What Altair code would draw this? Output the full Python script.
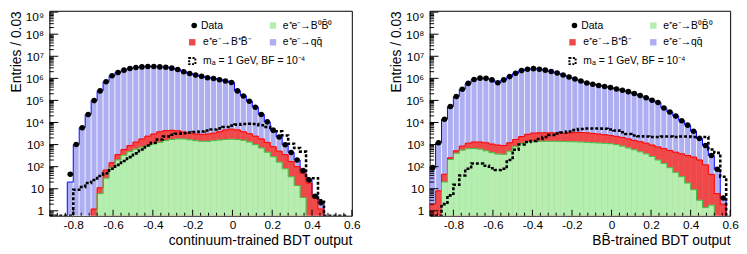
import altair as alt
import pandas as pd

FONT = "Liberation Sans"

# ---------------- binning (50 bins of 0.03) ----------------
N_BINS = 50
EDGES = [round(-0.92 + 0.03 * i, 3) for i in range(N_BINS + 1)]

# ---------------- left panel: continuum-trained BDT ----------------
L_DATA = [0, 0, 0, 45, 1000, 5800, 23000, 98000, 270000, 700000,
          1300000, 1850000, 2350000, 2800000, 3100000, 3300000, 3450000, 3450000, 3300000, 3200000,
          2900000, 2500000, 2000000, 1650000, 1400000, 1230000, 1070000, 980000, 870000, 760000,
          650000, 270000, 160000, 91000, 49000, 23000, 10700, 4400, 2200, 980,
          440, 200, 66, 25, 4.6, 2.3, 0, 0, 0, 0]
L_BB0 = [0, 0, 0, 0, 0, 0, 0, 0, 6, 30,
         90, 200, 330, 480, 620, 760, 900, 1050, 1250, 1500,
         1700, 1800, 1800, 1650, 1500, 1400, 1400, 1500, 1600, 1700,
         1750, 1700, 1550, 1300, 1000, 700, 450, 280, 160, 80,
         35, 14, 4, 0, 0, 0, 0, 0, 0, 0]
L_BPM = [0, 0, 0, 0, 0, 0, 0, 1.2, 5, 40,
         60, 150, 270, 420, 680, 1040, 1500, 1950, 2550, 2800,
         2700, 2400, 1900, 1650, 1500, 1500, 1600, 1800, 2200, 2900,
         3250, 2900, 2250, 1800, 1400, 1100, 800, 520, 340, 270,
         135, 86, 46, 18, 4, 1.2, 0, 0, 0, 0]
L_QQ = [0, 0, 0, 20, 1000, 5800, 23000, 98000, 270000, 700000,
        1300000, 1850000, 2350000, 2800000, 3100000, 3300000, 3450000, 3450000, 3300000, 3200000,
        2900000, 2500000, 2000000, 1650000, 1400000, 1230000, 1070000, 980000, 870000, 760000,
        650000, 270000, 160000, 91000, 49000, 22000, 9500, 3600, 1700, 630,
        270, 100, 16, 7, 1, 1, 0, 0, 0, 0]
L_SIG = [0, 0, 0, 0, 9, 12, 18, 25, 38, 50,
         80, 120, 180, 270, 400, 600, 900, 1200, 1700, 2300,
         2800, 3100, 3300, 3500, 3700, 3900, 4300, 4800, 5400, 6200,
         7200, 8000, 8600, 8800, 8500, 7500, 6200, 5000, 4000, 2600,
         1100, 700, 480, 30, 30, 3, 0, 0, 0, 0]

# ---------------- right panel: BBbar-trained BDT ----------------
R_DATA = [90, 1200, 14000, 53000, 150000, 320000, 590000, 890000, 1020000, 1000000,
          850000, 630000, 850000, 1200000, 1700000, 2240000, 2570000, 2750000, 2600000, 2350000,
          2050000, 1740000, 1410000, 1150000, 930000, 760000, 620000, 540000, 470000, 430000,
          380000, 330000, 290000, 250000, 204000, 166000, 132000, 102000, 80000, 45000,
          30000, 19500, 12000, 7600, 4000, 1900, 900, 320, 76, 3.8]
R_BB0 = [0, 0, 20, 210, 400, 560, 650, 660, 620, 520,
         430, 370, 360, 500, 800, 1100, 1300, 1350, 1400, 1400,
         1400, 1400, 1380, 1350, 1330, 1300, 1260, 1220, 1180, 1140,
         1100, 1000, 850, 700, 580, 470, 380, 290, 200, 140,
         90, 55, 35, 18, 9, 3, 1.4, 1.8, 0, 0]
R_BPM = [2, 8, 25, 40, 120, 290, 500, 640, 680, 680,
         620, 580, 540, 700, 900, 1200, 1600, 1950, 2000, 2000,
         2000, 1950, 1920, 2050, 2170, 2200, 2140, 1980, 1820, 1660,
         1500, 1350, 1250, 1100, 970, 880, 770, 660, 580, 510,
         450, 395, 345, 302, 261, 197, 119, 43, 6, 2]
R_QQ = [88, 1190, 13950, 52750, 149500, 319000, 589000, 889000, 1019000, 999000,
        849000, 629000, 849000, 1199000, 1698000, 2238000, 2567000, 2747000, 2597000, 2347000,
        2047000, 1737000, 1407000, 1147000, 927000, 757000, 617000, 537000, 467000, 427000,
        377000, 328000, 288000, 248000, 202000, 165000, 131000, 101000, 79000, 44000,
        29500, 19000, 11600, 7300, 3700, 1700, 780, 275, 70, 1.8]
R_SIG = [0, 0, 2, 5, 15, 40, 80, 140, 140, 110,
         85, 70, 80, 200, 580, 1000, 1300, 1450, 1800, 2200,
         2700, 3200, 3500, 3900, 4500, 5100, 5300, 5300, 5300, 5200,
         4800, 4300, 3600, 3000, 2600, 2400, 2300, 2200, 2200, 2300,
         2300, 2200, 2300, 2300, 2200, 2200, 2200, 600, 420, 35]

# ---------------- axes ----------------
X_DOM = [-0.92, 0.6]
Y_DOM = [0.6, 1.15e9]
FLOOR = 0.01
X_MAJOR = [-0.8, -0.6, -0.4, -0.2, 0.0, 0.2, 0.4, 0.6]
X_MINOR = [-0.88, -0.84, -0.76, -0.72, -0.68, -0.64, -0.56, -0.52, -0.48, -0.44,
           -0.36, -0.32, -0.28, -0.24, -0.16, -0.12, -0.08, -0.04, 0.04, 0.08,
           0.12, 0.16, 0.24, 0.28, 0.32, 0.36, 0.44, 0.48, 0.52, 0.56]
Y_MAJOR = [1, 10, 1e2, 1e3, 1e4, 1e5, 1e6, 1e7, 1e8, 1e9]
Y_LABELS = ["1", "10", "10²", "10³", "10⁴", "10⁵", "10⁶", "10⁷", "10⁸", "10⁹"]
Y_MINOR = [m * 10.0 ** k for k in range(-1, 9) for m in range(2, 10)
           if Y_DOM[0] < m * 10.0 ** k < Y_DOM[1]]

LEG_DATA = "Data"
LEG_BB0 = "e⁺e⁻→B⁰B\u0304⁰"
LEG_BPM = "e⁺e⁻→B⁺B\u0304⁻"
LEG_QQ = "e⁺e⁻→qq\u0304"
LEG_SIG = "m\u2090 = 1 GeV, BF = 10⁻⁴"

C_BLUE_F, C_BLUE_L = "#aeaef2", "#0000ff"
C_RED_F, C_RED_L = "#f04848", "#ff0000"
C_GRN_F, C_GRN_L = "#b4efb0", "#44bb44"

H = 208
Y_LABEL_EXPR = "[%s][round(log(datum.value) / LN10)]" % ", ".join("'%s'" % s for s in Y_LABELS)
X_LABEL_EXPR = ("datum.value < 0 ? '-' + format(-datum.value, '.1f') : "
                "(datum.value == 0 ? '0' : format(datum.value, '.1f'))")


def bins_df(vals):
    return pd.DataFrame({
        "lo": EDGES[:-1], "hi": EDGES[1:],
        "c": [round((a + b) / 2, 4) for a, b in zip(EDGES[:-1], EDGES[1:])],
        "v": vals,
        "f": [FLOOR] * len(vals),
    })


def step_df(vals, full=False):
    nz = [i for i, v in enumerate(vals) if v > 0]
    first, last = (0, len(vals) - 1) if full else (nz[0], nz[-1])
    xs, ys = [EDGES[first]], [FLOOR]
    for i in range(first, last + 1):
        v = vals[i] if vals[i] > 0 else FLOOR
        xs += [EDGES[i], EDGES[i + 1]]
        ys += [v, v]
    xs.append(EDGES[last + 1])
    ys.append(FLOOR)
    return pd.DataFrame({"x": xs, "y": ys, "o": list(range(len(xs)))})


def panel(data, bb0, bpm, qq, sig, xtitle, width):
    xs = alt.Scale(domain=X_DOM, nice=False, zero=False)
    ys = alt.Scale(type="log", domain=Y_DOM, nice=False, clamp=True)
    cum_g = list(bb0)
    cum_r = [g + r for g, r in zip(bb0, bpm)]
    cum_b = [c + q for c, q in zip(cum_r, qq)]

    x_axis = alt.Axis(values=X_MAJOR, ticks=False, domain=False, grid=False,
                      labelExpr=X_LABEL_EXPR,
                      labelFlush=False, labelOverlap=False, labelPadding=4,
                      labelFontSize=12, title=xtitle, titleAnchor="end",
                      titleFontSize=14, titlePadding=3)
    y_axis = alt.Axis(values=Y_MAJOR, ticks=False, domain=False, grid=False,
                      labelExpr=Y_LABEL_EXPR,
                      labelFlush=3, labelOverlap=False, labelPadding=6,
                      labelFontSize=12, title="Entries / 0.03", titleAnchor="end",
                      titleFontSize=14, titlePadding=2)

    def X(field):
        return alt.X(field, scale=xs, axis=x_axis)

    def Y(field):
        return alt.Y(field, scale=ys, axis=y_axis)

    def rects(vals, fill, **kw):
        df = bins_df(vals)
        df = df[df["v"] > 0]
        return alt.Chart(df).mark_rect(fill=fill, clip=True, **kw).encode(
            x=X("lo:Q"), x2="hi:Q", y=Y("v:Q"), y2="f:Q")

    def outline(vals, color, width_=1.0, dash=None, full=False):
        kw = dict(color=color, strokeWidth=width_, clip=True)
        if dash:
            kw["strokeDash"] = dash
        return alt.Chart(step_df(vals, full)).mark_line(**kw).encode(
            x=X("x:Q"), y=Y("y:Q"), order="o:Q")

    ddf = bins_df(data)
    ddf = ddf[ddf["v"] > 0]
    points = alt.Chart(ddf).mark_circle(size=32, color="black", opacity=1).encode(
        x=X("c:Q"), y=Y("v:Q"))

    def yticks(vals, length):
        return alt.Chart(pd.DataFrame({"v": vals})).mark_rule(color="black", strokeWidth=1).encode(
            y=Y("v:Q"), x=alt.value(0), x2=alt.value(length))

    def xticks(vals, length):
        return alt.Chart(pd.DataFrame({"v": vals})).mark_rule(color="black", strokeWidth=1).encode(
            x=X("v:Q"), y=alt.value(H), y2=alt.value(H - length))

    one = pd.DataFrame({"k": [0]})

    def leg_text(txt, x, y):
        return alt.Chart(one).mark_text(align="left", baseline="middle", fontSize=10.5,
                                        font=FONT, color="black").encode(
            x=alt.value(x), y=alt.value(y), text=alt.value(txt))

    def leg_box(x, y, fill):
        return alt.Chart(one).mark_square(size=42, fill=fill, opacity=1, strokeWidth=0).encode(
            x=alt.value(x), y=alt.value(y))

    legend = [
        alt.Chart(one).mark_circle(size=32, color="black", opacity=1).encode(
            x=alt.value(147), y=alt.value(15)),
        leg_text(LEG_DATA, 154, 15),
        leg_box(227, 15, C_GRN_F),
        leg_text(LEG_BB0, 237, 15),
        leg_box(145, 32, C_RED_F),
        leg_text(LEG_BPM, 156, 32),
        leg_box(227, 32, C_BLUE_F),
        leg_text(LEG_QQ, 237, 32),
        alt.Chart(one).mark_square(size=40, filled=False, stroke="black", strokeWidth=2,
                                   strokeDash=[2, 1.5], opacity=1).encode(
            x=alt.value(145), y=alt.value(51)),
        leg_text(LEG_SIG, 156, 51),
    ]

    layers = [
        rects(cum_b, C_BLUE_F, stroke="white", strokeWidth=0.6),
        rects(cum_r, C_RED_F, stroke=C_RED_F, strokeWidth=0.5),
        rects(cum_g, C_GRN_F, stroke=C_GRN_F, strokeWidth=0.5),
        outline(cum_b, C_BLUE_L),
        outline(cum_r, C_RED_L),
        outline(cum_g, C_GRN_L),
        outline(sig, "black", 2.6, [3, 2], full=True),
        points,
        yticks(Y_MAJOR, 9), yticks(Y_MINOR, 4.5),
        xticks(X_MAJOR, 6), xticks(X_MINOR, 3),
    ] + legend
    return alt.layer(*layers).properties(width=width, height=H)


left = panel(L_DATA, L_BB0, L_BPM, L_QQ, L_SIG, "continuum-trained BDT output", 307)
right = panel(R_DATA, R_BB0, R_BPM, R_QQ, R_SIG, "BB\u0304-trained BDT output", 305)

chart = alt.hconcat(left, right, spacing=28).properties(padding=0).configure(
    font=FONT
).configure_view(stroke="black", strokeWidth=1).configure_axis(
    labelFont=FONT, titleFont=FONT, labelColor="black", titleColor="black",
    titleFontWeight="normal"
)

chart.save("out.html", embed_options={"renderer": "svg", "actions": False})
